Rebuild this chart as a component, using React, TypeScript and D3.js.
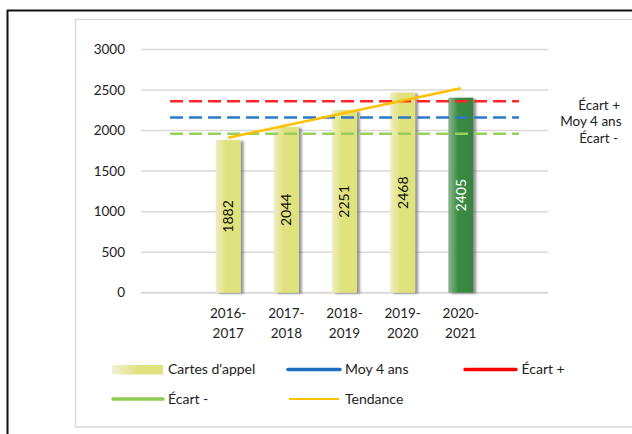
import React from "react";
import * as d3 from "d3";

const slots = ["a", "2016-2017", "2017-2018", "2018-2019", "2019-2020", "2020-2021", "b"];
const categories = ["2016-2017", "2017-2018", "2018-2019", "2019-2020", "2020-2021"];
const callCards = [1882, 2044, 2251, 2468, 2405];
const highlight = [false, false, false, false, true];
const mean4 = 2161;
const gapPlus = 2361;
const gapMinus = 1961;
const trendStart = 1912;
const trendEnd = 2522;
const yTicks = [0, 500, 1000, 1500, 2000, 2500, 3000];

const FONT = "Lato, 'Open Sans', sans-serif";

export default function App() {
  const W = 632, H = 434;
  const x = d3.scaleBand().domain(slots).range([141, 548]).paddingInner(0).paddingOuter(0);
  const y = d3.scaleLinear().domain([0, 3000]).range([292.7, 49.5]);
  const bw = 25;
  const cx = (c: string) => (x(c) as number) + x.bandwidth() / 2;
  const x0 = cx(slots[0]);
  const x1 = cx(slots[slots.length - 1]);
  const refLines = [
    { v: gapPlus, color: "#FF2626", w: 2.6 },
    { v: mean4, color: "#2E78C8", w: 2.6 },
    { v: gapMinus, color: "#96D05A", w: 2.4 },
  ];
  const trend = d3.line<[number, number]>().x((d) => d[0]).y((d) => y(d[1]));
  const trendPts: [number, number][] = [
    [cx(categories[0]), trendStart],
    [cx(categories[categories.length - 1]), trendEnd],
  ];

  return (
    <svg width={W} height={H} style={{ position: "absolute", left: 0, top: 0, background: "#fff" }}>
      <defs>
        <linearGradient id="gy" x1="0" x2="1" y1="0" y2="0">
          <stop offset="0" stopColor="#EEEEC4" />
          <stop offset="0.4" stopColor="#E0E27E" />
          <stop offset="1" stopColor="#E0E27C" />
        </linearGradient>
        <linearGradient id="gg" x1="0" x2="1" y1="0" y2="0">
          <stop offset="0" stopColor="#8DB890" />
          <stop offset="0.4" stopColor="#3B8B44" />
          <stop offset="1" stopColor="#36843F" />
        </linearGradient>
        <linearGradient id="gl" x1="0" x2="1" y1="0" y2="0">
          <stop offset="0" stopColor="#F2F2D6" />
          <stop offset="0.5" stopColor="#E0E27E" />
          <stop offset="1" stopColor="#E0E27C" />
        </linearGradient>
        <filter id="sh" x="-50%" y="-10%" width="200%" height="120%">
          <feDropShadow dx="3" dy="1" stdDeviation="1.3" floodColor="#555" floodOpacity="0.6" />
        </filter>
      </defs>
      {/* outer frame */}
      <line x1={7} x2={W} y1={10.5} y2={10.5} stroke="#111" strokeWidth={2} />
      <line x1={7.5} x2={7.5} y1={10} y2={H} stroke="#111" strokeWidth={2} />
      {/* chart area frame */}
      <rect x={75.5} y={19.5} width={W} height={407.5} fill="none" stroke="#DADADA" strokeWidth={1.5} />
      {/* gridlines */}
      {yTicks.map((t) => (
        <g key={t}>
          <line x1={141} x2={548} y1={y(t)} y2={y(t)} stroke="#D9D9D9" strokeWidth={t === 0 ? 2 : 1.5} />
          <text x={125} y={y(t)} dy="0.35em" textAnchor="end" fontFamily={FONT} fontSize={13.5} fill="#222">
            {t}
          </text>
        </g>
      ))}
      {/* bars */}
      {categories.map((c, i) => {
        const bx = cx(c) - bw / 2;
        const top = y(callCards[i]);
        return (
          <g key={c}>
            <rect
              x={bx}
              y={top}
              width={bw}
              height={y(0) - top}
              fill={highlight[i] ? "url(#gg)" : "url(#gy)"}
              filter="url(#sh)"
            />
            <text
              transform={`translate(${cx(c)},${(top + y(0)) / 2}) rotate(-90)`}
              textAnchor="middle"
              dy="0.35em"
              fontFamily={FONT}
              fontSize={14}
              fill={highlight[i] ? "#fff" : "#111"}
            >
              {callCards[i]}
            </text>
            <text x={cx(c)} y={318} textAnchor="middle" fontFamily={FONT} fontSize={13.5} fill="#222">
              {c.split("-")[0] + "-"}
            </text>
            <text x={cx(c)} y={337.5} textAnchor="middle" fontFamily={FONT} fontSize={13.5} fill="#222">
              {c.split("-")[1]}
            </text>
          </g>
        );
      })}
      {/* reference lines */}
      {refLines.map((r) => (
        <line
          key={r.v}
          x1={x0}
          x2={x1}
          y1={y(r.v)}
          y2={y(r.v)}
          stroke={r.color}
          strokeWidth={r.w}
          strokeDasharray="13 6"
        />
      ))}
      {/* trend */}
      <path d={trend(trendPts) || ""} stroke="#FFC000" strokeWidth={2.6} fill="none" />
      {/* right labels */}
      <text x={620} y={y(gapPlus) + 4} dy="0.35em" textAnchor="end" fontFamily={FONT} fontSize={13.5} fill="#222">
        Écart +
      </text>
      <text x={621.5} y={y(mean4) + 4} dy="0.35em" textAnchor="end" fontFamily={FONT} fontSize={13.5} fill="#222">
        Moy 4 ans
      </text>
      <text x={618} y={y(gapMinus) + 5} dy="0.35em" textAnchor="end" fontFamily={FONT} fontSize={13.5} fill="#222">
        Écart -
      </text>
      {/* legend */}
      <g fontFamily={FONT} fontSize={14} fill="#222">
        <rect x={112} y={365} width={51} height={9.5} fill="url(#gl)" />
        <text x={168} y={369.5} dy="0.35em">Cartes d'appel</text>
        <line x1={288} x2={340} y1={369.5} y2={369.5} stroke="#1F6FC0" strokeWidth={3.5} strokeLinecap="round" />
        <text x={345} y={369.5} dy="0.35em">Moy 4 ans</text>
        <line x1={465} x2={516} y1={369.5} y2={369.5} stroke="#FF0000" strokeWidth={3.5} strokeLinecap="round" />
        <text x={521.5} y={369.5} dy="0.35em">Écart +</text>
        <line x1={113} x2={163} y1={399} y2={399} stroke="#8CCB4E" strokeWidth={3.5} strokeLinecap="round" />
        <text x={168} y={399} dy="0.35em">Écart -</text>
        <line x1={289} x2={339} y1={399} y2={399} stroke="#FFC000" strokeWidth={2} />
        <text x={345} y={399} dy="0.35em">Tendance</text>
      </g>
    </svg>
  );
}
